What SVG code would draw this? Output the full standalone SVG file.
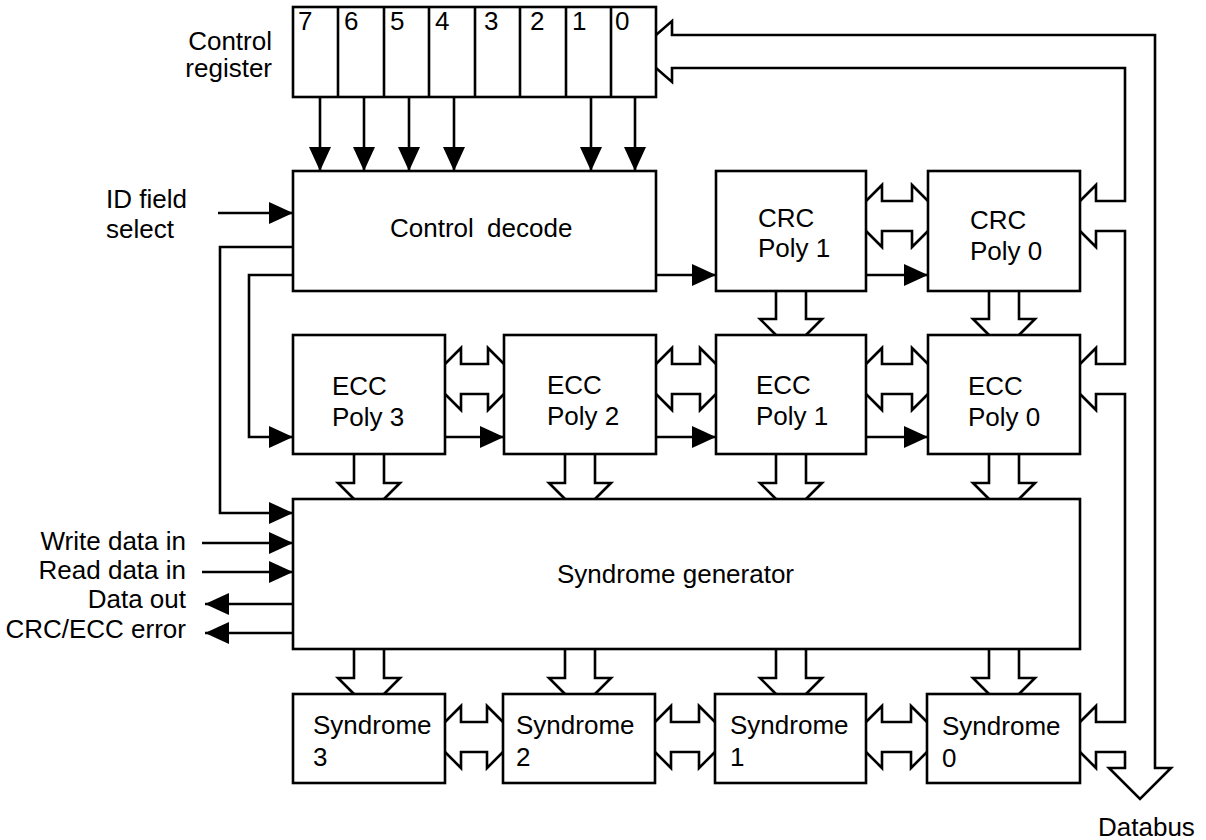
<svg xmlns="http://www.w3.org/2000/svg" width="1206" height="840" viewBox="0 0 1206 840">
<style>
.box{fill:#fff;stroke:#000;stroke-width:2.6}
.ln{fill:none;stroke:#000;stroke-width:2.6;stroke-linejoin:miter}
.ar{fill:none;stroke:#000;stroke-width:2.6;marker-end:url(#ah)}
text{font-family:"Liberation Sans",Arial,sans-serif;font-size:26px;fill:#000}
.r{text-anchor:end}
.c{text-anchor:middle}
</style>
<defs>
<marker id="ah" markerUnits="userSpaceOnUse" markerWidth="24" markerHeight="22" refX="24" refY="11" orient="auto" viewBox="0 0 24 22">
<path d="M0,0 L24,11 L0,22 z" fill="#000"/>
</marker>
</defs>
<rect width="1206" height="840" fill="#fff"/>

<g id="control-register">
<rect class="box" x="293" y="7" width="363" height="90"/>
<path class="ln" d="M338,7V97M384,7V97M429,7V97M475,7V97M520,7V97M566,7V97M611,7V97"/>
<text x="298" y="30">7</text>
<text x="344" y="30">6</text>
<text x="390" y="30">5</text>
<text x="435" y="30">4</text>
<text x="484" y="30">3</text>
<text x="530" y="30">2</text>
<text x="572" y="30">1</text>
<text x="615" y="30">0</text>
<text class="r" x="272" y="50">Control</text>
<text class="r" x="272" y="77">register</text>
</g>

<g id="control-decode">
<rect class="box" x="293" y="171" width="363" height="120"/>
<text x="390" y="237" word-spacing="6">Control decode</text>
</g>

<g id="crc-poly-1">
<rect class="box" x="716" y="171" width="150" height="120"/>
<text x="758" y="227">CRC</text>
<text x="758" y="257">Poly 1</text>
</g>
<g id="crc-poly-0">
<rect class="box" x="928" y="171" width="152" height="120"/>
<text x="970" y="229">CRC</text>
<text x="970" y="260">Poly 0</text>
</g>

<g id="ecc-poly-3">
<rect class="box" x="293" y="335" width="152" height="119"/>
<text x="332" y="395">ECC</text>
<text x="332" y="426">Poly 3</text>
</g>
<g id="ecc-poly-2">
<rect class="box" x="504" y="335" width="152" height="119"/>
<text x="547" y="394">ECC</text>
<text x="547" y="425">Poly 2</text>
</g>
<g id="ecc-poly-1">
<rect class="box" x="716" y="335" width="150" height="119"/>
<text x="756" y="394">ECC</text>
<text x="756" y="425">Poly 1</text>
</g>
<g id="ecc-poly-0">
<rect class="box" x="928" y="335" width="152" height="119"/>
<text x="968" y="395">ECC</text>
<text x="968" y="426">Poly 0</text>
</g>

<g id="syndrome-generator">
<rect class="box" x="293" y="499" width="787" height="150"/>
<text x="557" y="583">Syndrome generator</text>
</g>

<g id="syndrome-3">
<rect class="box" x="293" y="694" width="152" height="89"/>
<text x="313" y="734">Syndrome</text>
<text x="313" y="766">3</text>
</g>
<g id="syndrome-2">
<rect class="box" x="503" y="694" width="152" height="89"/>
<text x="516" y="734">Syndrome</text>
<text x="516" y="766">2</text>
</g>
<g id="syndrome-1">
<rect class="box" x="715" y="694" width="151" height="89"/>
<text x="730" y="734">Syndrome</text>
<text x="730" y="766">1</text>
</g>
<g id="syndrome-0">
<rect class="box" x="927" y="694" width="153" height="89"/>
<text x="942" y="735">Syndrome</text>
<text x="942" y="767">0</text>
</g>

<g id="external-labels">
<text x="106" y="208">ID field</text>
<text x="106" y="238">select</text>
<text class="r" x="186" y="550">Write data in</text>
<text class="r" x="186" y="579">Read data in</text>
<text class="r" x="186" y="608">Data out</text>
<text class="r" x="186" y="638">CRC/ECC error</text>
<text x="1098" y="836">Databus</text>
</g>

<g id="connectors">
<!-- control register bits to control decode -->
<path class="ar" d="M320,97V171"/>
<path class="ar" d="M364,97V171"/>
<path class="ar" d="M409,97V171"/>
<path class="ar" d="M454,97V171"/>
<path class="ar" d="M591,97V171"/>
<path class="ar" d="M635,97V171"/>
<!-- control signals -->
<path class="ar" d="M218,213H293"/>
<path class="ar" d="M293,247H220V513H293"/>
<path class="ar" d="M293,275H249V437H293"/>
<path class="ar" d="M656,275H716"/>
<path class="ar" d="M866,275H928"/>
<path class="ar" d="M445,437H504"/>
<path class="ar" d="M656,437H716"/>
<path class="ar" d="M866,437H928"/>
<path class="ar" d="M202,543H293"/>
<path class="ar" d="M202,572H293"/>
<path class="ar" d="M293,604H205"/>
<path class="ar" d="M293,633H205"/>
<!-- hollow double arrows -->
<path class="ln" d="M866,201L882,185V201H912V185L928,201M866,231L882,247V231H912V247L928,231"/>
<path class="ln" d="M445,364L461,348V364H488V348L504,364M445,394L461,410V394H488V410L504,394"/>
<path class="ln" d="M656,364L672,348V364H700V348L716,364M656,394L672,410V394H700V410L716,394"/>
<path class="ln" d="M866,364L882,348V364H912V348L928,364M866,394L882,410V394H912V410L928,394"/>
<path class="ln" d="M445,722L461,706V722H487V706L503,722M445,752L461,768V752H487V768L503,752"/>
<path class="ln" d="M655,722L671,706V722H699V706L715,722M655,752L671,768V752H699V768L715,752"/>
<path class="ln" d="M866,722L882,706V722H911V706L927,722M866,752L882,768V752H911V768L927,752"/>
<!-- hollow vertical arrows -->
<path class="ln" d="M776,291V319H760L776,335M806,291V319H822L806,335"/>
<path class="ln" d="M989,291V319H973L989,335M1019,291V319H1035L1019,335"/>
<path class="ln" d="M354,454V483H338L354,499M384,454V483H400L384,499"/>
<path class="ln" d="M565,454V483H549L565,499M595,454V483H611L595,499"/>
<path class="ln" d="M776,454V483H760L776,499M806,454V483H822L806,499"/>
<path class="ln" d="M989,454V483H973L989,499M1019,454V483H1035L1019,499"/>
<path class="ln" d="M354,649V678H338L354,694M384,649V678H400L384,694"/>
<path class="ln" d="M565,649V678H549L565,694M595,649V678H611L595,694"/>
<path class="ln" d="M776,649V678H760L776,694M806,649V678H822L806,694"/>
<path class="ln" d="M989,649V678H973L989,694M1019,649V678H1035L1019,694"/>
<!-- databus -->
<path class="ln" d="M656,35L672,21V35H1155V768H1171L1140,799L1109,768H1125V752H1096V768L1080,752"/>
<path class="ln" d="M656,68L672,82V68H1125V201H1096V185L1080,201"/>
<path class="ln" d="M1080,231L1096,247V231H1125V364H1096V348L1080,364"/>
<path class="ln" d="M1080,394L1096,410V394H1125V722H1096V706L1080,722"/>
</g>
</svg>
